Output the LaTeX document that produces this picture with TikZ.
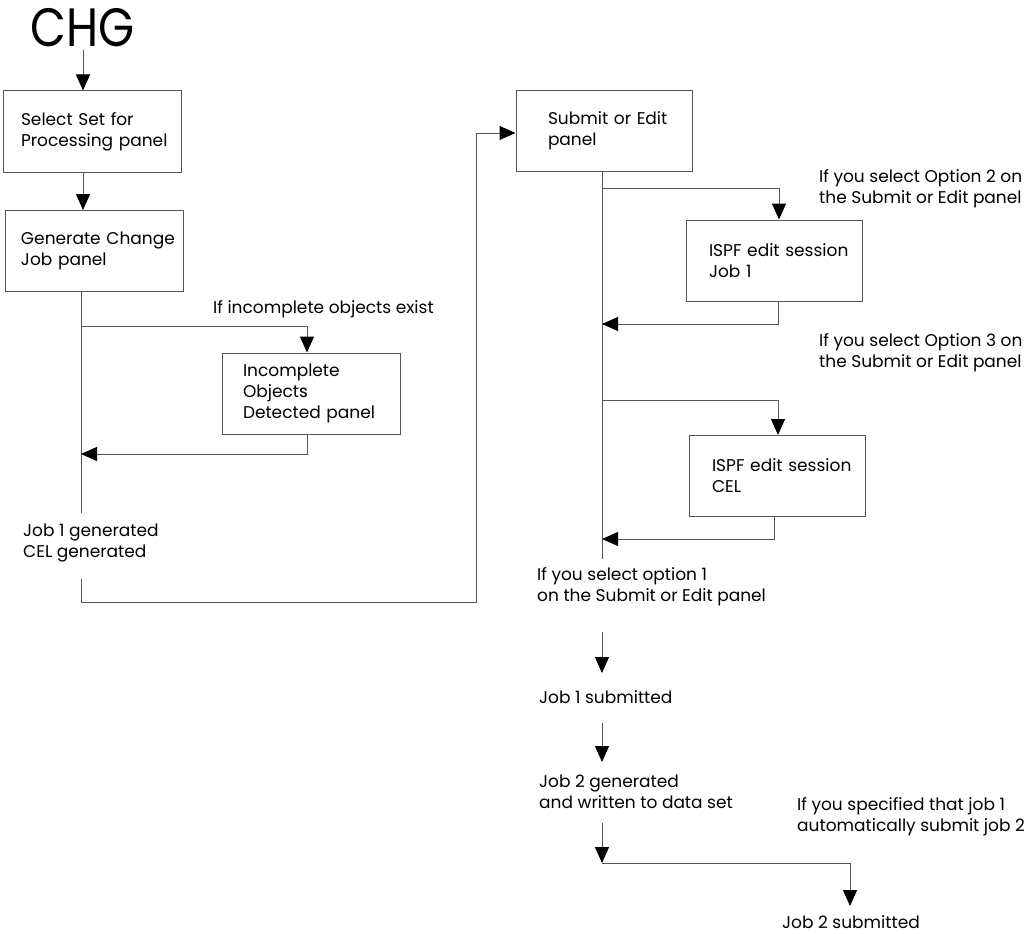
\documentclass[tikz,border=0pt]{standalone}
\usepackage{fontspec}
\setmainfont{Poppins}
\usetikzlibrary{arrows.meta}
\definecolor{linec}{RGB}{85,85,85}
\newcommand{\txtfont}{\fontsize{17}{21}\selectfont}
\newcommand{\ind}[1]{\hspace*{#1pt}}
\begin{document}
\begin{tikzpicture}[x=1pt,y=-1pt,
  line/.style={draw=linec,line width=1pt},
  arr/.style={line,-{Triangle[length=16pt,width=14pt,color=black]}},
  box/.style={draw=linec,line width=1pt,minimum width=178pt,minimum height=81pt,inner xsep=0pt,inner ysep=0pt,text width=172pt,align=left,font=\txtfont},
  lbl/.style={anchor=west,inner sep=0pt,align=left,font=\txtfont}]
\useasboundingbox (0,0) rectangle (1029,934);
% nodes
\node[inner sep=0pt,font=\fontsize{54}{54}\selectfont] (chg) at (83,28) {\scalebox{0.86}[1]{CHG}};
\node[box] (b1) at (92,131.5) {\ind{15}Select Set for\\\ind{15}Processing panel};
\node[box] (b2) at (94,251) {\ind{13}Generate Change\\\ind{13}Job panel};
\node[box] (b3) at (311,393.5) {\ind{18}Incomplete\\\ind{18}Objects\\\ind{18}Detected panel};
\node[box,minimum width=176pt] (b4) at (604,131) {\ind{30}Submit or Edit\\\ind{30}panel};
\node[box,minimum width=176pt] (b5) at (774,260.5) {\ind{21}ISPF edit session\\\ind{21}Job 1};
\node[box,minimum width=176pt] (b6) at (777,476) {\ind{21}ISPF edit session\\\ind{21}CEL};
\node[lbl] (incl) at (213,309) {If incomplete objects exist};
\node[lbl] (j1gen) at (23,543.5) {Job 1 generated\\CEL generated};
\node[lbl] (opt2) at (819,189) {If you select Option 2 on\\the Submit or Edit panel};
\node[lbl] (opt3) at (819,352.5) {If you select Option 3 on\\the Submit or Edit panel};
\node[lbl] (opt1) at (537,587) {If you select option 1\\on the Submit or Edit panel};
\node[lbl] (j1sub) at (539,697) {Job 1 submitted};
\node[lbl] (j2gen) at (539,792) {Job 2 generated\\and written to data set};
\node[lbl] (auto) at (797,817) {If you specified that job 1\\automatically submit job 2};
\node[lbl] (j2sub) at (782,922) {Job 2 submitted};
% coordinates
\coordinate (c0) at (83,50);
\coordinate (L1) at (81,326);
\coordinate (L2) at (307,326);
\coordinate (L3) at (307,454);
\coordinate (L4) at (81,454);
\coordinate (L5) at (81,513);
\coordinate (L6) at (81,579);
\coordinate (L7) at (81,602);
\coordinate (L8) at (476,602);
\coordinate (L9) at (476,133);
\coordinate (R0) at (602,559);
\coordinate (R1) at (602,188);
\coordinate (R2) at (779,188);
\coordinate (R3) at (778,324);
\coordinate (R4) at (602,324);
\coordinate (R5) at (602,400);
\coordinate (R6) at (778,400);
\coordinate (R7) at (774,539);
\coordinate (R8) at (602,539);
\coordinate (A1) at (602,632);
\coordinate (A2) at (602,673);
\coordinate (A3) at (602,723);
\coordinate (A4) at (602,762);
\coordinate (A5) at (602,823);
\coordinate (A6) at (602,863);
\coordinate (A7) at (850,863);
\coordinate (A8) at (850,906);
% connectors
\draw[arr] (c0) -- (c0 |- b1.north);
\draw[arr] (c0 |- b1.south) -- (c0 |- b2.north);
\draw[line] (L1 |- b2.south) -- (L5);
\draw[arr] (L1) -- (L2) -- (L2 |- b3.north);
\draw[arr] (L3 |- b3.south) -- (L3) -- (L4);
\draw[arr] (L6) -- (L7) -- (L8) -- (L9) -- (b4.west |- L9);
\draw[line] (R0 |- b4.south) -- (R0);
\draw[arr] (R1) -- (R2) -- (R2 |- b5.north);
\draw[arr] (R3 |- b5.south) -- (R3) -- (R4);
\draw[arr] (R5) -- (R6) -- (R6 |- b6.north);
\draw[arr] (R7 |- b6.south) -- (R7) -- (R8);
\draw[arr] (A1) -- (A2);
\draw[arr] (A3) -- (A4);
\draw[arr] (A5) -- (A6);
\draw[arr] (A6) -- (A7) -- (A8);
\end{tikzpicture}
\end{document}
